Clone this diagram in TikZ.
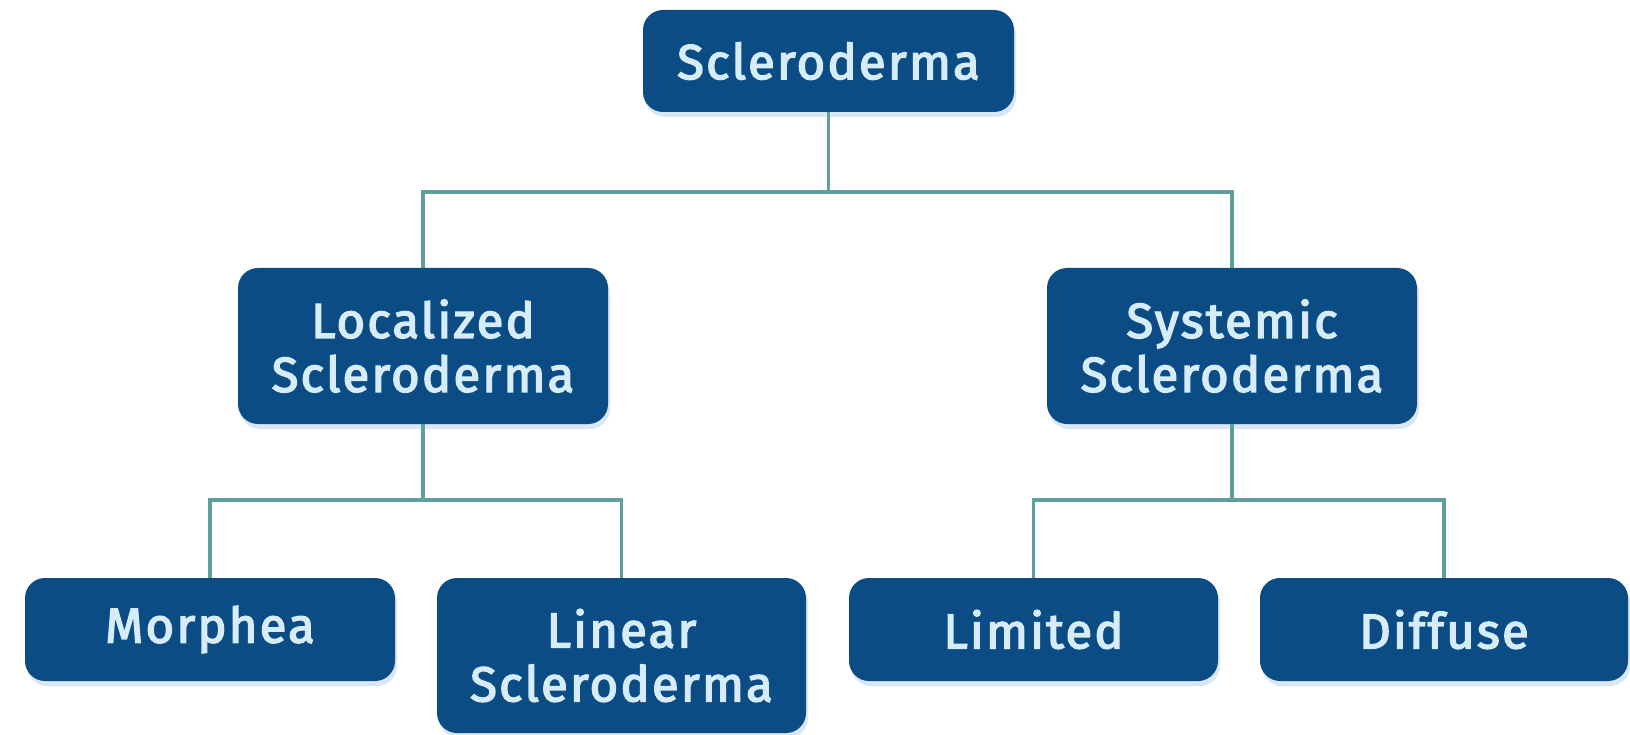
\documentclass[tikz,border=0pt]{standalone}
\usepackage{fontspec}
\setmainfont{Fira Sans}
\newfontfamily\boxfont{Fira Sans}[LetterSpace=4.5, FakeBold=3]
\usetikzlibrary{shadows}
\definecolor{boxblue}{HTML}{0B4C85}
\definecolor{boxtext}{HTML}{D6EDF9}
\definecolor{linkcol}{HTML}{5E9E9B}
\definecolor{glow}{HTML}{A9CBE6}
\tikzset{
  catbox/.style={rectangle, rounded corners=20pt, fill=boxblue, text=boxtext,
    font=\boxfont\fontsize{49}{54}\selectfont, align=center, inner sep=0pt,
    drop shadow={shadow xshift=2pt, shadow yshift=-5pt, fill=glow, opacity=0.45}},
  link/.style={draw=linkcol, line width=3.5pt}
}
\begin{document}
\begin{tikzpicture}[x=1pt,y=-1pt]
\useasboundingbox[fill=white] (0,0) rectangle (1630,735);
\node[catbox, minimum width=371pt, minimum height=102pt] (root) at (828.5,61) {Scleroderma};
\node[catbox, minimum width=370pt, minimum height=156pt] (loc) at (423,346) {Localized\\Scleroderma};
\node[catbox, minimum width=370pt, minimum height=156pt] (sys) at (1232,346) {Systemic\\Scleroderma};
\node[catbox, minimum width=370pt, minimum height=103pt] (mor) at (210,629.5) {Morphea};
\node[catbox, minimum width=369pt, minimum height=155pt] (lin) at (621.5,655.5) {Linear\\Scleroderma};
\node[catbox, minimum width=369pt, minimum height=103pt] (lim) at (1033.5,629.5) {Limited};
\node[catbox, minimum width=368pt, minimum height=103pt] (dif) at (1444,629.5) {Diffuse};
\coordinate (j1) at (828.5,192);
\coordinate (j2) at (423,500);
\coordinate (j3) at (1232,500);
\path[link] (root.south) -- (j1);
\path[link] (loc.north) |- (j1) -| (sys.north);
\path[link] (loc.south) -- (j2);
\path[link] (mor.north) |- (j2) -| (lin.north);
\path[link] (sys.south) -- (j3);
\path[link] (lim.north) |- (j3) -| (dif.north);
\end{tikzpicture}
\end{document}
